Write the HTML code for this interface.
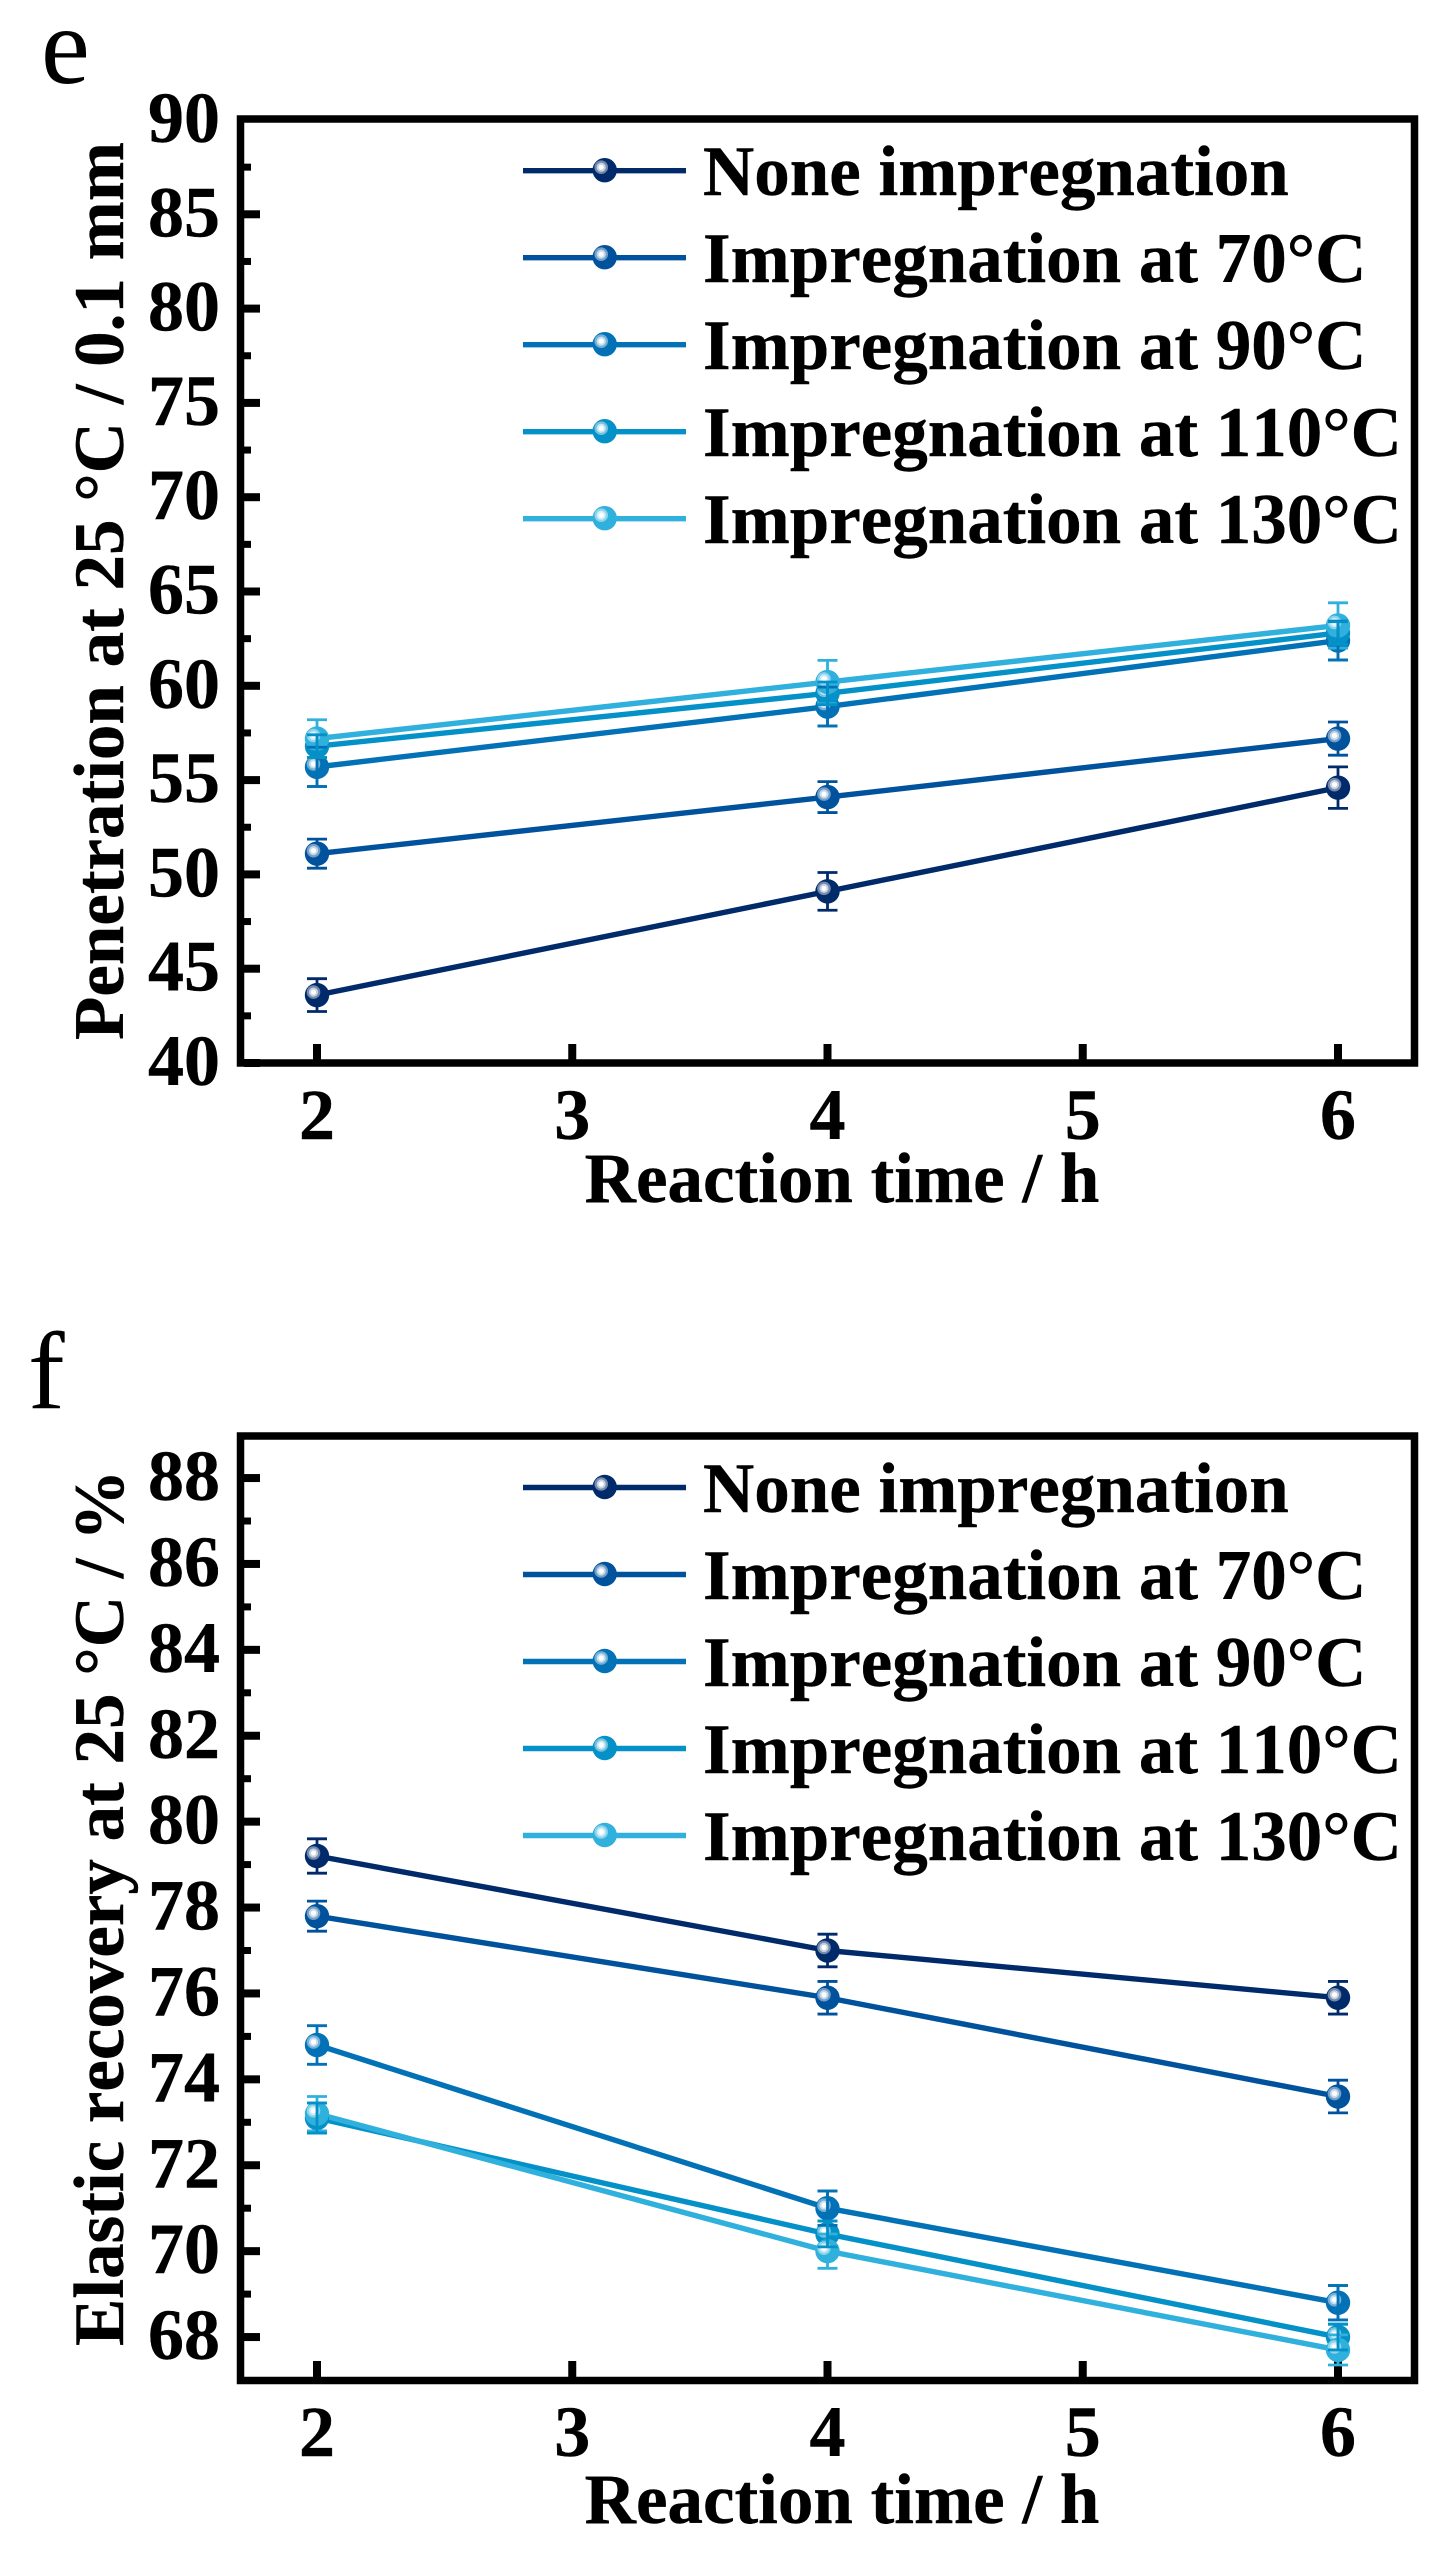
<!DOCTYPE html>
<html lang="en">
<head>
<meta charset="utf-8">
<title>Penetration and elastic recovery vs reaction time</title>
<style>
html,body{margin:0;padding:0;background:#fff;}
body{width:1455px;height:2561px;overflow:hidden;}
svg{display:block;}
text{font-family:"Liberation Serif",serif;fill:#000;font-kerning:none;}
.b{font-weight:bold;font-size:71px;stroke:#000;stroke-width:0.4px;}
.tick{font-weight:bold;font-size:72px;stroke:#000;stroke-width:0.4px;}
.panel{font-size:110px;}
</style>
</head>
<body>
<svg id="figure" xmlns="http://www.w3.org/2000/svg" width="1455" height="2561" viewBox="0 0 1455 2561">
  <rect x="0" y="0" width="1455" height="2561" fill="#ffffff"/>

  <g id="chart-e">
    <text class="panel" x="41" y="83">e</text>
    <rect x="240.5" y="119" width="1174" height="944" fill="none" stroke="#000" stroke-width="7.5"/>
    <text class="b" transform="translate(123,1040) rotate(-90)">Penetration at 25 °C / 0.1 mm</text>
    <text class="b" x="842" y="1202" text-anchor="middle">Reaction time / h</text>
  </g>

  <g id="chart-f">
    <text class="panel" x="28" y="1408">f</text>
    <rect x="240.5" y="1436" width="1174" height="944.5" fill="none" stroke="#000" stroke-width="7.5"/>
    <text class="b" transform="translate(123,2346) rotate(-90)">Elastic recovery at 25 °C / %</text>
    <text class="b" x="842" y="2523" text-anchor="middle">Reaction time / h</text>
  </g>
</svg>

<script>
// ---- shared categories ----
const reactionTimes = [2, 4, 6];
const xTickLabels = [2, 3, 4, 5, 6];
const seriesNames = ["None impregnation", "Impregnation at 70°C", "Impregnation at 90°C", "Impregnation at 110°C", "Impregnation at 130°C"];
const seriesKeys = ["none", "70c", "90c", "110c", "130c"];
const seriesColors = ["#012a6b", "#00529c", "#0271b6", "#0391c7", "#30b0dc"];

// ---- panel e: penetration values ----
const penNone = [43.6, 49.1, 54.6];
const pen70 = [51.1, 54.1, 57.2];
const pen90 = [55.7, 58.9, 62.4];
const pen110 = [56.8, 59.6, 62.8];
const pen130 = [57.2, 60.2, 63.2];
const penErrNone = [0.87, 1.0, 1.1];
const penErr70 = [0.77, 0.82, 0.88];
const penErr90 = [1.04, 1.03, 1.03];
const penErr110 = [0.6, 0.6, 0.6];
const penErr130 = [1.0, 1.15, 1.2];
const penYTicks = [40, 45, 50, 55, 60, 65, 70, 75, 80, 85, 90];
const penYMinor = [42.5, 47.5, 52.5, 57.5, 62.5, 67.5, 72.5, 77.5, 82.5, 87.5];

// ---- panel f: elastic recovery values ----
const recNone = [79.2, 77.0, 75.9];
const rec70 = [77.8, 75.9, 73.6];
const rec90 = [74.8, 71.0, 68.8];
const rec110 = [73.1, 70.4, 68.0];
const rec130 = [73.2, 70.0, 67.7];
const recErrNone = [0.4, 0.38, 0.38];
const recErr70 = [0.35, 0.38, 0.38];
const recErr90 = [0.45, 0.4, 0.4];
const recErr110 = [0.35, 0.3, 0.3];
const recErr130 = [0.4, 0.4, 0.35];
const recYTicks = [68, 70, 72, 74, 76, 78, 80, 82, 84, 86, 88];
const recYMinor = [69, 71, 73, 75, 77, 79, 81, 83, 85, 87];

const SVG_NS = "http://www.w3.org/2000/svg";
function make(parent, tag, attrs) {
  const el = document.createElementNS(SVG_NS, tag);
  for (const k in attrs) el.setAttribute(k, attrs[k]);
  parent.appendChild(el);
  return el;
}
function xScale(v) { return 317 + (v - 2) * 255.25; }

function drawMarker(parent, cx, cy, color, name) {
  const g = make(parent, "g", {});
  
  
  make(g, "circle", { cx: cx, cy: cy, r: 12.2, fill: color });
  make(g, "circle", { cx: cx - 3.5, cy: cy - 3, r: 6.8, fill: "#fff", "fill-opacity": 0.45 });
  make(g, "circle", { cx: cx - 3.5, cy: cy - 3, r: 4.6, fill: "#fff", "fill-opacity": 0.6 });
  make(g, "circle", { cx: cx - 3.5, cy: cy - 3, r: 2.6, fill: "#fff" });
}

function drawErrorBar(parent, cx, yHi, yLo, color, name) {
  const g = make(parent, "g", { stroke: color, fill: "none" });
  
  
  make(g, "line", { x1: cx, x2: cx, y1: yHi, y2: yLo, "stroke-width": 2.8 });
  make(g, "line", { x1: cx - 10, x2: cx + 10, y1: yHi, y2: yHi, "stroke-width": 2.8 });
  make(g, "line", { x1: cx - 10, x2: cx + 10, y1: yLo, y2: yLo, "stroke-width": 2.8 });
}

function drawChart(root, suffix, yScale, yTicks, yMinor, series, errors, legendY, xLabelBase) {
  const ticks = make(root, "g", { fill: "#000" });
  
  

  yTicks.forEach(function (v) {
    const y = yScale(v);
    if (y > Number(root.dataset.top)) {
      const t = make(ticks, "rect", { x: 244, y: y - 4, width: 16, height: 8 });
      
      
    }
    const lab = make(root, "text", { class: "tick", x: 220, y: y + 22, "text-anchor": "end" });
    
    
    lab.textContent = v;
  });
  yMinor.forEach(function (v) {
    const t = make(ticks, "rect", { x: 244, y: yScale(v) - 3.5, width: 7, height: 7 });
    
    
  });
  const baseY = xLabelBase;
  xTickLabels.forEach(function (v) {
    const x = xScale(v);
    const t = make(ticks, "rect", { x: x - 4, y: baseY - 95, width: 8, height: 17 });
    
    
    const lab = make(root, "text", { class: "tick", x: x, y: baseY, "text-anchor": "middle" });
    
    
    lab.textContent = v;
  });

  // lines
  series.forEach(function (vals, s) {
    const pts = vals.map(function (v, i) { return xScale(reactionTimes[i]) + "," + yScale(v); }).join(" ");
    const line = make(root, "polyline", { points: pts, fill: "none", stroke: seriesColors[s], "stroke-width": 5.4, "stroke-linejoin": "round" });
    
    
  });
  // own error bars below own markers, in series order
  series.forEach(function (vals, s) {
    vals.forEach(function (v, i) {
      const cx = xScale(reactionTimes[i]);
      drawErrorBar(root, cx, yScale(v + errors[s][i]), yScale(v - errors[s][i]), seriesColors[s], 'error-bar-' + seriesKeys[s]);
      drawMarker(root, cx, yScale(v), seriesColors[s], 'point-' + seriesKeys[s]);
    });
  });
  // error bars that show through markers of later, overlapping series
  series.forEach(function (vals, s) {
    vals.forEach(function (v, i) {
      let overlaps = false;
      for (let o = s + 1; o < series.length; o++) {
        if (Math.abs(yScale(series[o][i]) - yScale(v)) < 40) overlaps = true;
      }
      if (overlaps) {
        drawErrorBar(root, xScale(reactionTimes[i]), yScale(v + errors[s][i]), yScale(v - errors[s][i]), seriesColors[s], 'overlapping-error-bar-' + seriesKeys[s]);
      }
    });
  });

  // legend
  const legend = make(root, "g", {});
  
  
  seriesNames.forEach(function (name, s) {
    const y = legendY + s * 87;
    const entry = make(legend, "g", {});
    
    
    const sw = make(entry, "line", { x1: 523, x2: 686, y1: y, y2: y, stroke: seriesColors[s], "stroke-width": 5.4 });
    
    
    drawMarker(entry, 604.7, y - 0.5, seriesColors[s], 'legend-marker');
    const txt = make(entry, "text", { class: "b", x: 703, y: y + 24.5 });
    
    
    txt.textContent = name;
  });
}

function penY(v) { return 1063 - (v - 40) * 18.86; }
function recY(v) { return 2380 - (v - 67) * 42.95; }

const rootE = document.getElementById("chart-e");
rootE.dataset.top = 125;
drawChart(rootE, "e", penY, penYTicks, penYMinor,
  [penNone, pen70, pen90, pen110, pen130],
  [penErrNone, penErr70, penErr90, penErr110, penErr130],
  170.7, 1139);

const rootF = document.getElementById("chart-f");
rootF.dataset.top = 1440;
drawChart(rootF, "f", recY, recYTicks, recYMinor,
  [recNone, rec70, rec90, rec110, rec130],
  [recErrNone, recErr70, recErr90, recErr110, recErr130],
  1487.5, 2456);
</script>
</body>
</html>
